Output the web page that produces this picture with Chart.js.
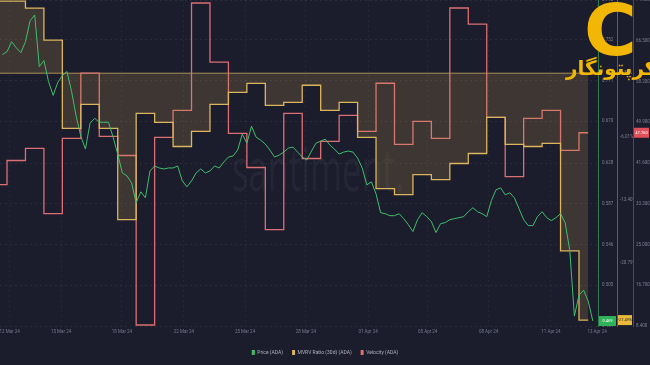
<!DOCTYPE html>
<html>
<head>
<meta charset="utf-8">
<script src="https://cdn.jsdelivr.net/npm/chart.js@4.4.1/dist/chart.umd.min.js"></script>
<style>
  html, body { margin: 0; padding: 0; background: #1b1c2c; }
  #wrap { position: relative; width: 650px; height: 365px; overflow: hidden; }
  #logoC { position: absolute; left: 584px; top: -12px; font: bold 72px "DejaVu Sans"; color: #f2b705; }
  #logoText { position: absolute; left: 566px; top: 56px; font: bold 20px "DejaVu Sans"; color: #f2b705; direction: rtl; white-space: nowrap; }
</style>
</head>
<body>
<div id="wrap">
  <canvas id="chart" width="650" height="365"></canvas>
  <div id="logoC">C</div>
  <div id="logoText">کرپتونگار</div>
</div>
<script>
// time axis: days counted from 12 Mar 24 00:00
const xMin = -0.38;
const xMax = 32.03;
const xTickDays = [0.14, 2.93, 6.23, 9.59, 12.9, 16.2, 19.57, 22.8, 26.1, 29.48, 31.98];
const xTickLabels = ["12 Mar 24", "15 Mar 24", "18 Mar 24", "22 Mar 24", "25 Mar 24", "28 Mar 24",
  "01 Apr 24", "05 Apr 24", "08 Apr 24", "11 Apr 24", "13 Apr 24"];

// price, every 6h starting 11 Mar 18:00
const priceStart = -0.25;
const priceStep = 0.25;
const priceAda = [
  0.737, 0.740, 0.750, 0.744, 0.739, 0.750, 0.771, 0.777, 0.725, 0.731,
  0.710, 0.696, 0.709, 0.716, 0.720, 0.700, 0.675, 0.655, 0.642, 0.668,
  0.673, 0.669, 0.669, 0.669, 0.654, 0.637, 0.618, 0.615, 0.608, 0.588,
  0.599, 0.593, 0.620, 0.625, 0.623, 0.622, 0.623, 0.623, 0.625, 0.610,
  0.604, 0.610, 0.618, 0.622, 0.618, 0.620, 0.625, 0.623, 0.629, 0.634,
  0.635, 0.641, 0.657, 0.648, 0.665, 0.654, 0.651, 0.647, 0.641, 0.634,
  0.636, 0.639, 0.643, 0.644, 0.639, 0.634, 0.631, 0.640, 0.648, 0.650,
  0.652, 0.646, 0.642, 0.637, 0.639, 0.640, 0.639, 0.633, 0.623, 0.606,
  0.609, 0.597, 0.578, 0.577, 0.575, 0.575, 0.577, 0.572, 0.566, 0.559,
  0.571, 0.578, 0.574, 0.569, 0.558, 0.567, 0.568, 0.571, 0.572, 0.573,
  0.574, 0.579, 0.583, 0.579, 0.577, 0.574, 0.590, 0.601, 0.603, 0.596,
  0.598, 0.593, 0.582, 0.571, 0.565, 0.565, 0.574, 0.579, 0.573, 0.570,
  0.573, 0.577, 0.568, 0.540, 0.474, 0.495, 0.500, 0.489, 0.469
];

// daily values, 11 Mar .. 12 Apr
const firstDay = -1;
const mvrvRatio = [
  9.82, 9.82, 9.0, 5.25, -5.07, -2.26, -5.07, -15.75, -3.31, -4.37,
  -7.19, -5.43, -2.26, -0.85, 0.20, -2.38, -2.02, -0.03, -2.96, -2.02,
  -6.13, -12.11, -12.82, -10.47, -11.06, -9.18, -8.01, -3.78, -6.95, -7.19,
  -6.83, -19.39, -27.49
];
const velocity = [
  37.21, 42.11, 44.56, 31.28, 46.61, 59.89, 47.02, 43.13, 8.60, 46.81,
  52.33, 74.19, 62.13, 47.63, 40.68, 28.02, 51.71, 42.52, 45.99, 51.31,
  48.04, 57.84, 45.38, 50.08, 46.61, 73.17, 69.90, 50.90, 38.84, 50.69,
  52.33, 44.16, 47.76
];
const mvrvBaseline = 1.38;

const priceTicks = [0.464, 0.505, 0.546, 0.587, 0.628, 0.670, 0.711, 0.752, 0.792];
const mvrvTicks = [-20.79, -13.40, -6.01, 1.38, 8.77];
const mvrvRange = [-28.18, 9.94];
const velocityTicks = [8.4, 16.7, 25.0, 33.3, 41.6, 49.9, 58.2, 66.5, 74.8];

const GREEN = '#3fbf6c';
const YELLOW = '#dcb65c';
const RED = '#dc6f73';
const tickFont = { size: 4.5, family: 'Roboto' };

const noPad = s => { s.paddingLeft = 0; s.paddingRight = 0; s.paddingTop = 0; s.paddingBottom = 0; };

const backdrop = {
  id: 'backdrop',
  beforeDatasetsDraw(chart) {
    const { ctx, chartArea } = chart;
    ctx.save();
    // watermark
    ctx.font = '60px "Open Sans"';
    const w = ctx.measureText('santiment.').width;
    ctx.translate(232, 174);
    ctx.scale(172 / w, 1);
    ctx.fillStyle = 'rgba(255,255,255,0.045)';
    ctx.fillText('santiment.', 0, 0);
    ctx.restore();
    // mvrv reference line
    const y = chart.scales.yMvrv.getPixelForValue(mvrvBaseline);
    ctx.save();
    ctx.strokeStyle = 'rgba(214,182,100,0.75)';
    ctx.lineWidth = 1;
    ctx.beginPath();
    ctx.moveTo(chartArea.left, y);
    ctx.lineTo(chartArea.right - 6, y);
    ctx.stroke();
    ctx.restore();
  }
};

const lastValueBoxes = {
  id: 'lastValueBoxes',
  afterDraw(chart) {
    const ctx = chart.ctx;
    const marks = [
      { axis: 'yPrice', data: priceAda, bg: '#2fb35a', fg: '#ffffff', fmt: v => v.toFixed(3) },
      { axis: 'yMvrv', data: mvrvRatio, bg: '#e8b93c', fg: '#3a2c10', fmt: v => v.toFixed(2) + '%' },
      { axis: 'yVelocity', data: velocity, bg: '#e0505a', fg: '#ffffff', fmt: v => v.toFixed(3) }
    ];
    ctx.save();
    ctx.font = '4px Roboto';
    ctx.textAlign = 'center';
    ctx.textBaseline = 'middle';
    marks.forEach(m => {
      const scale = chart.scales[m.axis];
      const v = m.data[m.data.length - 1];
      const y = Math.min(scale.getPixelForValue(v), scale.bottom - 4);
      const x = scale.left + 1;
      const w = scale.width - 2;
      ctx.fillStyle = m.bg;
      ctx.fillRect(x, y - 5, w, 10);
      ctx.fillStyle = m.fg;
      ctx.fillText(m.fmt(v), x + w / 2, y);
    });
    ctx.restore();
  }
};

new Chart(document.getElementById('chart'), {
  type: 'line',
  data: {
    datasets: [
      {
        label: 'Price (ADA)',
        data: priceAda.map((y, i) => ({ x: priceStart + i * priceStep, y })),
        yAxisID: 'yPrice',
        borderColor: GREEN,
        backgroundColor: GREEN,
        borderWidth: 1,
        pointRadius: 0
      },
      {
        label: 'MVRV Ratio (30d) (ADA)',
        data: mvrvRatio.map((y, i) => ({ x: firstDay + i + 0.5, y })),
        yAxisID: 'yMvrv',
        borderColor: YELLOW,
        backgroundColor: 'rgba(200,160,80,0.2)',
        fill: { value: mvrvBaseline },
        stepped: 'middle',
        borderWidth: 1.3,
        pointRadius: 0
      },
      {
        label: 'Velocity (ADA)',
        data: velocity.map((y, i) => ({ x: firstDay + i + 0.5, y })),
        yAxisID: 'yVelocity',
        borderColor: RED,
        backgroundColor: RED,
        stepped: 'middle',
        borderWidth: 1.3,
        pointRadius: 0
      }
    ]
  },
  options: {
    responsive: false,
    animation: false,
    layout: { padding: 0 },
    plugins: {
      legend: {
        position: 'bottom',
        labels: {
          boxWidth: 3,
          boxHeight: 5,
          padding: 9,
          color: '#aeb1c2',
          font: { size: 5, family: 'Roboto' },
          generateLabels: chart => Chart.defaults.plugins.legend.labels.generateLabels(chart)
            .map(l => ({ ...l, fillStyle: l.strokeStyle, lineWidth: 0 }))
        }
      },
      tooltip: { enabled: false }
    },
    scales: {
      x: {
        type: 'linear',
        min: xMin,
        max: xMax,
        afterBuildTicks: s => { s.ticks = xTickDays.map(v => ({ value: v })); },
        afterFit: s => { noPad(s); s.height = 15; },
        ticks: {
          callback: (v, i) => xTickLabels[i],
          color: '#767a8e',
          font: tickFont,
          padding: 3,
          maxRotation: 0,
          autoSkip: false
        },
        grid: { color: 'rgba(255,255,255,0.05)', drawTicks: false },
        border: { display: false, dash: [2, 3] }
      },
      yPrice: {
        position: 'right',
        min: priceTicks[0],
        max: priceTicks[priceTicks.length - 1],
        afterBuildTicks: s => { s.ticks = priceTicks.map(v => ({ value: v })); },
        afterFit: s => { noPad(s); s.width = 19; },
        ticks: { callback: v => v.toFixed(3), color: '#7d8093', font: tickFont, padding: 4, autoSkip: false },
        grid: { color: 'rgba(255,255,255,0.07)', drawTicks: false },
        border: { color: '#2b7a4b', dash: [2, 3] }
      },
      yMvrv: {
        position: 'right',
        min: mvrvRange[0],
        max: mvrvRange[1],
        afterBuildTicks: s => { s.ticks = mvrvTicks.map(v => ({ value: v })); },
        afterFit: s => { noPad(s); s.width = 16; },
        ticks: { callback: v => v.toFixed(2) + '%', color: '#7d8093', font: tickFont, padding: 3, autoSkip: false },
        grid: { display: false, drawTicks: false },
        border: { color: '#6a5d4c' }
      },
      yVelocity: {
        position: 'right',
        min: velocityTicks[0],
        max: velocityTicks[velocityTicks.length - 1],
        afterBuildTicks: s => { s.ticks = velocityTicks.map(v => ({ value: v })); },
        afterFit: s => { noPad(s); s.width = 17; },
        ticks: { callback: v => v.toFixed(3), color: '#7d8093', font: tickFont, padding: 3, autoSkip: false },
        grid: { display: false, drawTicks: false },
        border: { color: '#6d3a48' }
      }
    }
  },
  plugins: [backdrop, lastValueBoxes]
});
</script>
</body>
</html>
